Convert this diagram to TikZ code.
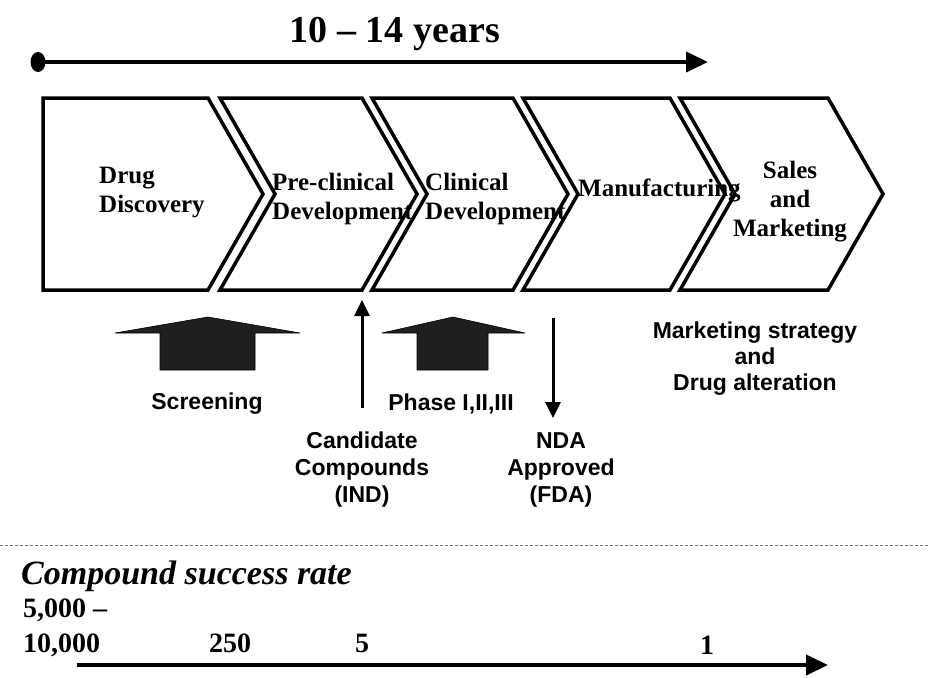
\documentclass[tikz,border=0pt]{standalone}
\usepackage{fontspec}
\setmainfont{Liberation Serif}
\setsansfont{Liberation Sans}
\usepackage{tikz}
\usetikzlibrary{positioning,arrows.meta,calc}
\tikzset{
  chev/.style={line width=3.5pt, line join=miter, draw=black},
  stage/.style={font=\fontsize{25}{29}\selectfont\bfseries, align=left, inner sep=0pt},
  note/.style={font=\sffamily\bfseries\fontsize{23}{27}\selectfont, align=center, inner sep=0pt},
  count/.style={font=\fontsize{28}{34}\selectfont\bfseries, inner sep=0pt},
  block/.style={fill=black!88, draw=black, line width=0.6pt, line join=round},
  bigarr/.style={-{Triangle[length=22pt, width=20pt]}, line width=4pt},
  thinarr/.style={-{Triangle[length=16pt, width=15pt]}, line width=3pt},
}

\begin{document}
\begin{tikzpicture}[x=1pt, y=-1pt]
  \useasboundingbox (0,0) rectangle (928,677);
  % time line on top
  \node[count, font=\fontsize{38}{42}\selectfont\bfseries, anchor=base] (ttl) at (395,42) {10 -- 14 years};
  \coordinate (t0) at (38,62);
  \coordinate (t1) at (708,62);
  \fill (t0) ellipse (7.5 and 10);
  \draw[bigarr] (t0) -- (t1);
  % stage chevrons
  \draw[chev] (43,98) -- (208,98) -- (263,194) -- (208,290) -- (43,290) -- cycle;
  \foreach \xl/\xr in {220/362, 372/513, 523/670, 680/828} {
    \draw[chev] (\xl,98) -- (\xr,98) -- (\xr+55,194) -- (\xr,290) -- (\xl,290) -- (\xl+55,194) -- cycle;
  }
  % (base of a multi-line node = last line)
  \node[stage, anchor=base west] (disc) at (99,212) {Drug\\Discovery};
  \node[stage, anchor=base west] (precl) at (272,219) {Pre-clinical\\Development};
  \node[stage, anchor=base west] (clin) at (425,219) {Clinical\\Development};
  \node[stage, anchor=base west] (manu) at (578,196) {Manufacturing};
  \node[stage, align=center, anchor=base] (sales) at (790,236) {Sales\\and\\Marketing};
  % block arrows under the stages
  \foreach \xa/\xb/\xc/\xd/\xe in {115/160/208/255/300, 382/417/453/488/525} {
    \filldraw[block] (\xa,333) -- (\xc,317) -- (\xe,333) -- (\xd,333) -- (\xd,370) -- (\xb,370) -- (\xb,333) -- cycle;
  }
  \node[note, anchor=base] (scr) at (207,409) {Screening};
  \node[note, anchor=base] (phase) at (451,410) {Phase I,II,III};
  % milestones
  \coordinate (ind0) at (362,408);
  \coordinate (ind1) at (362,300);
  \draw[thinarr] (ind0) -- (ind1);
  \node[note, anchor=base] (cand) at (362,502) {Candidate\\Compounds\\(IND)};
  \coordinate (nda0) at (553,318);
  \coordinate (nda1) at (553,418);
  \draw[thinarr] (nda0) -- (nda1);
  \node[note, anchor=base] (nda) at (561,502) {NDA\\Approved\\(FDA)};
  \node[note, font=\sffamily\bfseries\fontsize{23}{26}\selectfont, anchor=base] (mkt) at (755,390) {Marketing strategy\\and\\Drug alteration};
  % separator
  \draw[black!55, densely dashed, line width=0.8pt] (0,545) -- (928,545);
  % success rate
  \node[count, font=\fontsize{34}{38}\selectfont\bfseries\itshape, anchor=base west] (rate) at (21,584) {Compound success rate};
  \node[count, anchor=base west] (lo) at (23,617) {5,000 --};
  \node[count, anchor=base west] (hi) at (23,652) {10,000};
  \node[count, anchor=base] (n250) at (230,652) {250};
  \node[count, anchor=base] (n5) at (362,652) {5};
  \node[count, anchor=base] (n1) at (707,654) {1};
  \coordinate (r0) at (77,665);
  \coordinate (r1) at (828,665);
  \draw[bigarr] (r0) -- (r1);
\end{tikzpicture}
\end{document}
